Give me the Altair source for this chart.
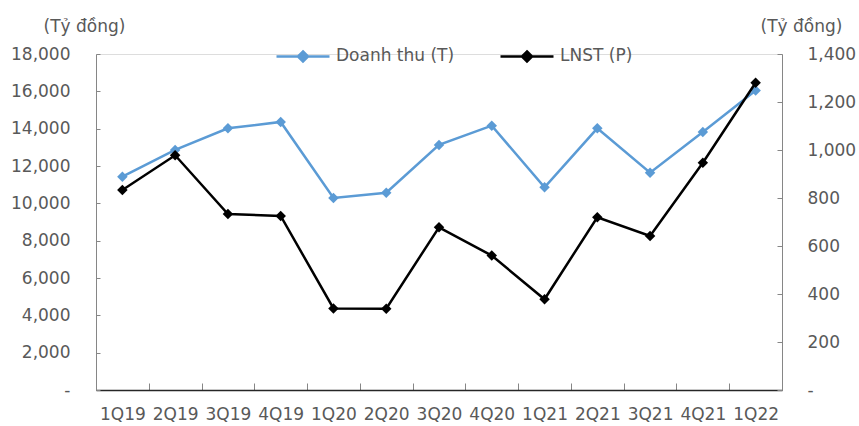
import altair as alt
import pandas as pd

quarters = ["1Q19", "2Q19", "3Q19", "4Q19", "1Q20", "2Q20", "3Q20",
            "4Q20", "1Q21", "2Q21", "3Q21", "4Q21", "1Q22"]
doanh_thu = [11430, 12860, 14020, 14360, 10290, 10570, 13130,
             14160, 10860, 14020, 11640, 13820, 16040]
lnst = [833, 978, 733, 725, 340, 339, 678, 560, 378, 720, 642, 947, 1280]
series_names = ["Doanh thu (T)", "LNST (P)"]
series_colors = ["#5B9BD5", "#000000"]
left_ticks = list(range(0, 18001, 2000))
right_ticks = list(range(0, 1401, 200))

df = pd.DataFrame({
    "quarter": quarters * 2,
    "series": [series_names[0]] * len(quarters) + [series_names[1]] * len(quarters),
    "value": doanh_thu + lnst,
})

FONT = "DejaVu Sans"
GRAY = "#595959"
AX = "#868686"

x = alt.X(
    "quarter:N", sort=quarters, bandPosition=0.5,
    scale=alt.Scale(type="band", paddingInner=0, paddingOuter=0),
    axis=alt.Axis(title=None, labelAngle=0, tickBand="extent",
                  domainColor="#262626", domainWidth=1.5,
                  tickColor=AX, tickSize=alt.ExprRef(expr="-7"),
                  labelPadding=23, labelFontSize=17, labelColor=GRAY,
                  labelFont=FONT, grid=False),
)

color = alt.Color(
    "series:N",
    scale=alt.Scale(domain=series_names, range=series_colors),
    legend=alt.Legend(
        title=None, orient="none", legendX=179, legendY=-26,
        direction="horizontal",
        symbolType="M-1,0H1M0,-0.19L0.19,0L0,0.19L-0.19,0Z",
        symbolSize=2809, symbolStrokeWidth=2.5,
        labelFontSize=17, labelColor=GRAY, labelFont=FONT,
        labelOffset=5, columnPadding=40, padding=0,
    ),
)

title_common = dict(
    title="(Tỷ đồng)", titleAngle=0, titleAlign="center",
    titleBaseline="alphabetic", titleFontSize=17, titleFont=FONT,
    titleColor=GRAY, titleFontWeight="normal", titleY=-23,
    labelFontSize=17, labelFont=FONT, labelColor=GRAY,
    domainColor=AX, tickColor=AX, grid=False,
)

y_left = alt.Y(
    "value:Q",
    scale=alt.Scale(domain=[0, 18000], nice=False),
    axis=alt.Axis(
        orient="left", values=left_ticks, titleX=-12,
        labelExpr="datum.value == 0 ? '-\u00a0\u00a0' : format(datum.value, ',')",
        labelPadding=30, tickSize=alt.ExprRef(expr="-4"),
        **title_common,
    ),
)

y_right = alt.Y(
    "value:Q",
    scale=alt.Scale(domain=[0, 1400], nice=False),
    axis=alt.Axis(
        orient="right", values=right_ticks, titleX=19,
        labelExpr="datum.value == 0 ? '-' : format(datum.value, ',')",
        labelPadding=30, tickSize=alt.ExprRef(expr="-5"),
        **title_common,
    ),
)

base_t = alt.Chart(df).transform_filter(alt.datum.series == series_names[0])
base_p = alt.Chart(df).transform_filter(alt.datum.series == series_names[1])

t_line = base_t.mark_line(strokeWidth=2.5).encode(x=x, y=y_left, color=color)
t_pts = base_t.mark_point(shape="diamond", filled=True, size=110, opacity=1).encode(
    x=x, y=y_left, color=color)
p_line = base_p.mark_line(strokeWidth=2.5).encode(x=x, y=y_right, color=color)
p_pts = base_p.mark_point(shape="diamond", filled=True, size=110, opacity=1).encode(
    x=x, y=y_right, color=color)

chart = alt.layer(
    alt.layer(t_line, t_pts),
    alt.layer(p_line, p_pts),
).resolve_scale(y="independent").properties(
    width=686, height=336,
    autosize=alt.AutoSizeParams(type="none"),
    padding={"left": 96, "top": 54, "right": 77, "bottom": 36},
).configure_view(stroke=None).configure(background="white")

chart.save("out.html", embed_options={"renderer": "svg", "actions": False})
